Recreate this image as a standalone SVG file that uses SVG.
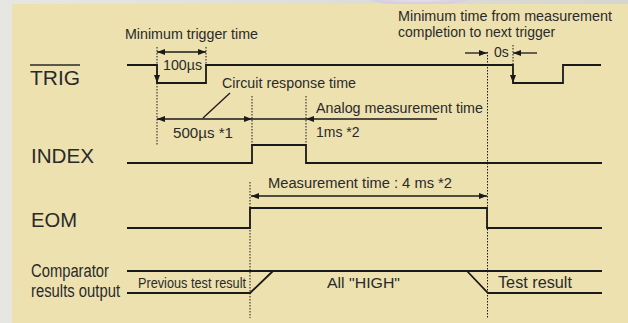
<svg xmlns="http://www.w3.org/2000/svg" width="628" height="323" viewBox="0 0 628 323">
<defs>
<linearGradient id="bgL" x1="0" y1="0" x2="1" y2="0">
<stop offset="0" stop-color="#e6e6e2"/>
<stop offset="1" stop-color="#d6d6d1"/>
</linearGradient>
<radialGradient id="blob" cx="0.5" cy="0.3" r="0.6">
<stop offset="0" stop-color="#ffffff"/>
<stop offset="0.6" stop-color="#f1eef4"/>
<stop offset="1" stop-color="#d8cfe0"/>
</radialGradient>
<marker id="ah" viewBox="0 0 8 6" refX="8" refY="3" markerWidth="8" markerHeight="6" markerUnits="userSpaceOnUse" orient="auto-start-reverse">
<path d="M0,0 L8,3 L0,6 z" fill="#1a1a1a"/>
</marker>
<style>
text{font-family:"Liberation Sans",Arial,sans-serif;fill:#2a2a2a;}
.sig{fill:none;stroke:#1a1a1a;stroke-width:1.8;stroke-linejoin:miter;}
.dim{fill:none;stroke:#1a1a1a;stroke-width:1.3;}
.dot{fill:none;stroke:#1a1a1a;stroke-width:1;stroke-dasharray:1.5 1.5;}
.lab{font-size:20.5px;}
.t14{font-size:14px;}
.t16{font-size:16px;}
</style>
</defs>
<rect x="0" y="0" width="628" height="323" fill="url(#bgL)"/>
<ellipse cx="419" cy="-8" rx="60" ry="14" fill="url(#blob)"/>
<rect x="12" y="4" width="616" height="319" fill="#ede1b0"/>

<g id="trig">
<text class="lab" x="30" y="85" textLength="50" lengthAdjust="spacingAndGlyphs">TRIG</text>
<line x1="30" y1="65" x2="80" y2="65" stroke="#2a2a2a" stroke-width="1.6"/>
<polyline class="sig" points="127,65 157,65 157,83 206,83 206,65 513,65 513,83 563,83 563,65 601,65"/>
<path d="M154,75 L160,75 L157,83 z" fill="#1a1a1a"/>
<path d="M510,75 L516,75 L513,83 z" fill="#1a1a1a"/>
</g>

<g id="index">
<text class="lab" x="31" y="163" textLength="63" lengthAdjust="spacingAndGlyphs">INDEX</text>
<polyline class="sig" points="127,163 252,163 252,145 306,145 306,163 602,163"/>
</g>

<g id="eom">
<text class="lab" x="31" y="227" textLength="46" lengthAdjust="spacingAndGlyphs">EOM</text>
<polyline class="sig" points="127,228 250,228 250,208 487,208 487,228 602,228"/>
</g>

<g id="comparator">
<text x="31" y="277" font-size="18" textLength="78" lengthAdjust="spacingAndGlyphs">Comparator</text>
<text x="31" y="297" font-size="18" textLength="89" lengthAdjust="spacingAndGlyphs">results output</text>
<line class="sig" x1="127" y1="271" x2="602" y2="271" stroke-width="1.6"/>
<polyline class="sig" stroke-width="1.6" points="127,293 250,293 273,271"/>
<polyline class="sig" stroke-width="1.6" points="467,271 488,293 602,293"/>
<text x="138" y="288" font-size="14" textLength="108" lengthAdjust="spacingAndGlyphs">Previous test result</text>
<text x="327" y="288" font-size="15.5" textLength="73" lengthAdjust="spacingAndGlyphs">All "HIGH"</text>
<text x="498" y="288" font-size="16" textLength="74" lengthAdjust="spacingAndGlyphs">Test result</text>
</g>

<g id="connectors">
<line class="dot" x1="157" y1="47" x2="157" y2="145"/>
<line class="dot" x1="206" y1="47" x2="206" y2="65"/>
<line class="dot" x1="252" y1="96" x2="252" y2="145"/>
<line class="dot" x1="306" y1="96" x2="306" y2="145"/>
<line class="dot" x1="250" y1="182" x2="250" y2="318"/>
<line class="dot" x1="487.5" y1="52" x2="487.5" y2="318"/>
<line class="dot" x1="513" y1="45" x2="513" y2="65"/>

<line class="dim" x1="157" y1="52" x2="206" y2="52" marker-start="url(#ah)" marker-end="url(#ah)"/>
<line class="dim" x1="157" y1="119" x2="252" y2="119" marker-start="url(#ah)" marker-end="url(#ah)"/>
<line class="dim" x1="252" y1="119" x2="306" y2="119"/>
<line class="dim" x1="306" y1="119" x2="437" y2="119" marker-start="url(#ah)"/>
<line class="dim" x1="203" y1="118" x2="230" y2="93"/>
<line class="dim" x1="251" y1="196" x2="487" y2="196" marker-start="url(#ah)" marker-end="url(#ah)"/>
<line class="dim" x1="465" y1="53" x2="487" y2="53" marker-end="url(#ah)"/>
<line class="dim" x1="537" y1="53" x2="513" y2="53" marker-end="url(#ah)"/>
</g>

<g id="labels">
<text class="t14" x="125" y="39" textLength="133" lengthAdjust="spacingAndGlyphs">Minimum trigger time</text>
<text class="t14" x="163" y="70" textLength="39" lengthAdjust="spacingAndGlyphs">100µs</text>
<text class="t14" x="222" y="88" textLength="134" lengthAdjust="spacingAndGlyphs">Circuit response time</text>
<text class="t14" x="173" y="138" textLength="60" lengthAdjust="spacingAndGlyphs">500µs *1</text>
<text class="t14" x="316" y="113" textLength="167" lengthAdjust="spacingAndGlyphs">Analog measurement time</text>
<text class="t14" x="316" y="137">1ms *2</text>
<text class="t14" x="398" y="21" textLength="214" lengthAdjust="spacingAndGlyphs">Minimum time from measurement</text>
<text class="t14" x="398" y="37">completion to next trigger</text>
<text class="t14" x="494" y="57">0s</text>
<text class="t14" x="268" y="188" textLength="184" lengthAdjust="spacingAndGlyphs">Measurement time : 4 ms *2</text>
</g>
</svg>
